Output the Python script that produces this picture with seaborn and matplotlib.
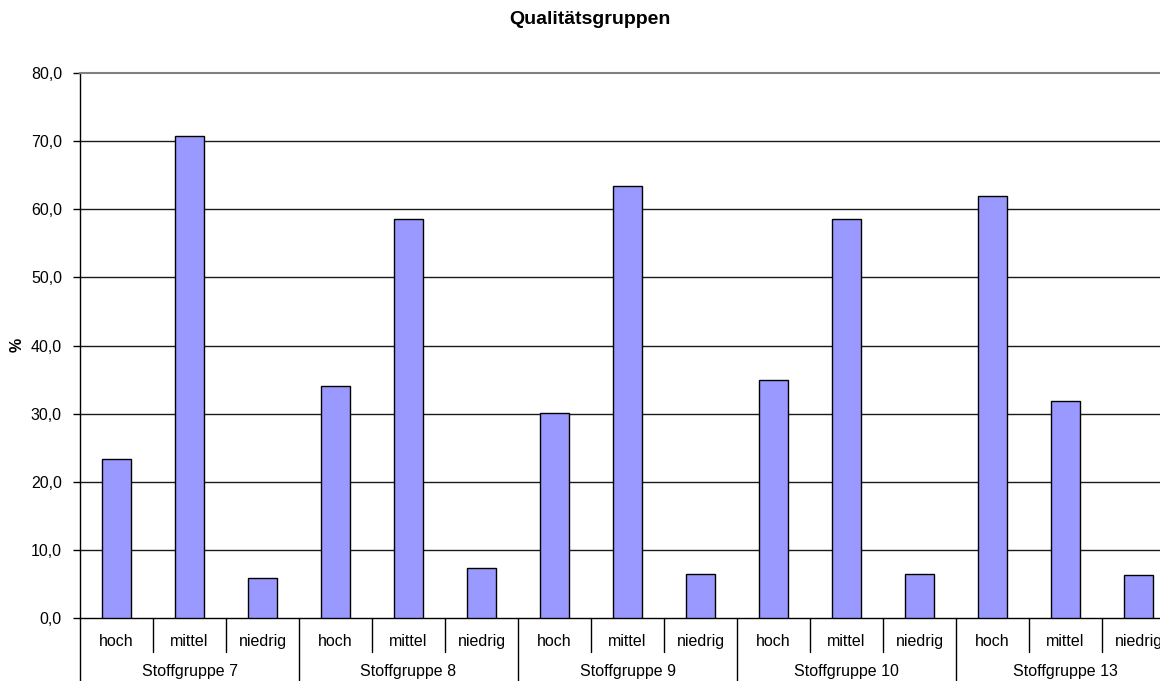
import pandas as pd
import numpy as np
import matplotlib
matplotlib.use("Agg")
import matplotlib.pyplot as plt
import matplotlib.transforms as mtransforms
import seaborn as sns

# values (percent per quality group)
groups = ["Stoffgruppe 7", "Stoffgruppe 8", "Stoffgruppe 9", "Stoffgruppe 10", "Stoffgruppe 13"]
qualities = ["hoch", "mittel", "niedrig"]
hoch = [23.4, 34.0, 30.1, 34.9, 62.0]
mittel = [70.8, 58.6, 63.4, 58.6, 31.8]
niedrig = [5.8, 7.4, 6.5, 6.5, 6.3]
yticks = [0, 10, 20, 30, 40, 50, 60, 70, 80]

rows = []
for i, g in enumerate(groups):
    for q, vals in zip(qualities, [hoch, mittel, niedrig]):
        rows.append({"group": g, "quality": q, "key": g + " " + q, "value": vals[i]})
df = pd.DataFrame(rows)

sns.set_theme(style="white")
plt.rcParams["font.family"] = ["Liberation Sans", "DejaVu Sans"]
plt.rcParams["text.color"] = "black"
plt.rcParams["ytick.color"] = "black"
plt.rcParams["xtick.color"] = "black"
plt.rcParams["axes.labelcolor"] = "black"

W, H = 1160, 681
fig = plt.figure(figsize=(W / 100, H / 100), dpi=100)
# plot area runs past the right edge like in the original
ax = fig.add_axes([80 / W, (H - 618) / H, 1095 / W, 545 / H])

sns.barplot(data=df, x="key", y="value", color="#9999FF", saturation=1,
            edgecolor="black", linewidth=1, width=0.41, errorbar=None, ax=ax, zorder=3)

ax.set_ylim(0, 80)
ax.set_xlim(-0.5, len(df) - 0.5)
ax.set_yticks(yticks)
ax.set_yticklabels([f"{v:.1f}".replace(".", ",") for v in yticks], fontsize=11.5)
ax.tick_params(axis="y", direction="out", length=5, width=1, color="black", pad=8, left=True)
ax.set_xticks([])
ax.set_xlabel("")
ax.set_ylabel("")

for v in yticks[1:-1]:
    ax.axhline(v, color="#1a1a1a", lw=1, zorder=1)

ax.spines["left"].set_color("black")
ax.spines["bottom"].set_color("black")
ax.spines["top"].set_color("#808080")
ax.spines["top"].set_linewidth(1.5)
ax.spines["right"].set_visible(False)
for s in ["left", "bottom"]:
    ax.spines[s].set_linewidth(1)

# two-level category axis
trans = mtransforms.blended_transform_factory(ax.transData, ax.transAxes)
for i, row in df.iterrows():
    ax.text(i, -0.044, row["quality"], transform=trans, ha="center", va="center", fontsize=11.5)
for k in range(1, len(df)):
    if k % 3 == 0:
        continue
    ax.plot([k - 0.5, k - 0.5], [0, -0.062], transform=trans, color="black", lw=1, clip_on=False)
for j, g in enumerate(groups):
    ax.text(j * 3 + 1, -0.099, g, transform=trans, ha="center", va="center", fontsize=11.5)
    ax.plot([j * 3 - 0.5, j * 3 - 0.5], [0, -0.2], transform=trans, color="black", lw=1, clip_on=False)
ax.plot([len(df) - 0.5] * 2, [0, -0.2], transform=trans, color="black", lw=1, clip_on=False)

fig.text(590 / W, 1 - 20 / H, "Qualitätsgruppen", ha="center", va="center",
         fontsize=14, fontweight="bold")
fig.text(17 / W, 1 - 345 / H, "%", ha="center", va="center", rotation=90,
         fontsize=11.5, fontweight="bold")

fig.savefig("out.png", dpi=100)
